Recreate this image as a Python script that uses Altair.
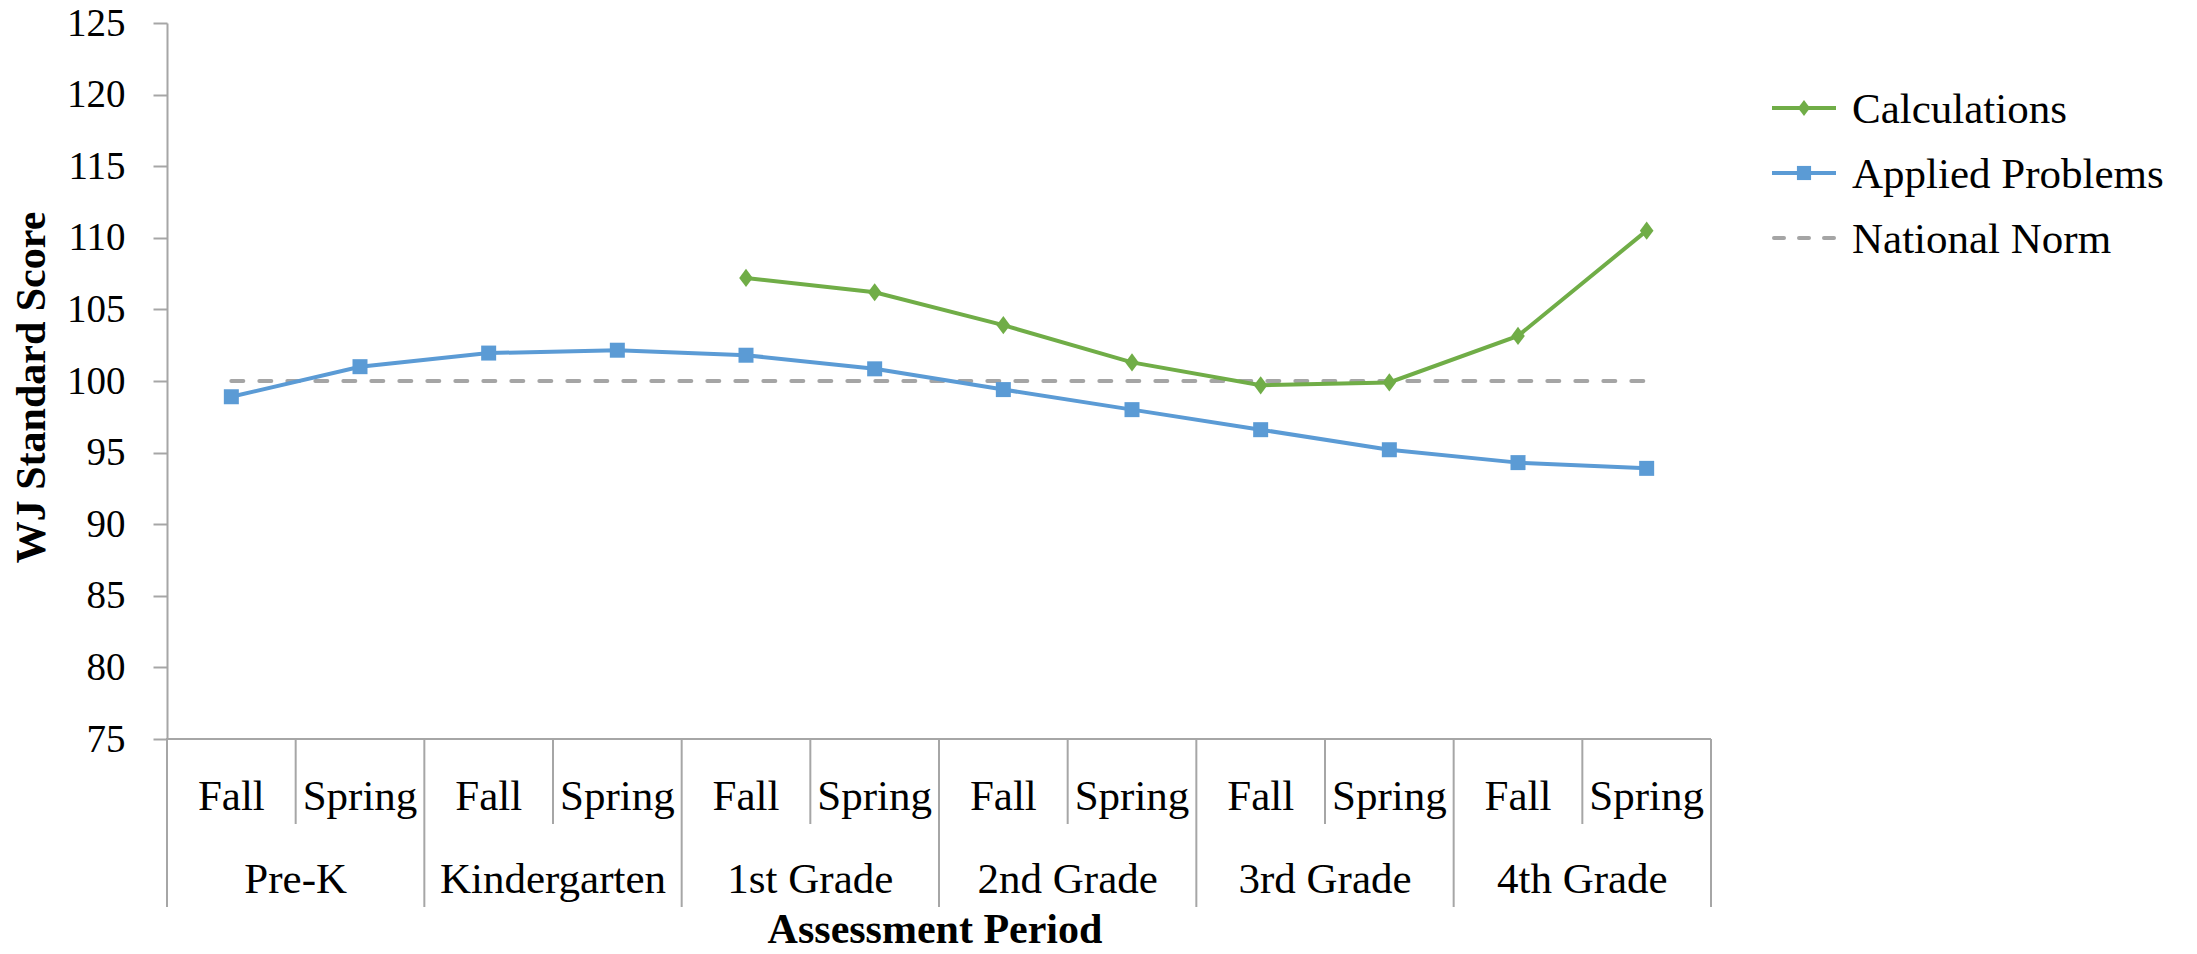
import altair as alt
import pandas as pd

# ---------------- data ----------------
seasons = ["Fall", "Spring"] * 6
grades = ["Pre-K", "Kindergarten", "1st Grade", "2nd Grade", "3rd Grade", "4th Grade"]
calculations = [None, None, None, None, 107.2, 106.2, 103.9, 101.3, 99.7, 99.9, 103.15, 110.5]
applied_problems = [98.9, 101.0, 101.95, 102.15, 101.8, 100.85, 99.4, 98.0, 96.6, 95.2, 94.3, 93.9]
national_norm = [100] * 12
series_names = ["Calculations", "Applied Problems", "National Norm"]
series_colors = ["#70AD47", "#5B9BD5", "#A5A5A5"]
y_ticks = list(range(75, 130, 5))
x_title = ["Assessment Period"]

# ---------------- tables ----------------
periods = pd.DataFrame({
    "pos": [i + 0.5 for i in range(len(seasons))],
    "season": seasons,
    "grade": [grades[i // 2] for i in range(len(seasons))],
})
groups = pd.DataFrame({"pos": [2 * i + 1 for i in range(len(grades))], "grade": grades})
group_bounds = pd.DataFrame({"pos": [2 * i for i in range(len(grades) + 1)]})
inner_bounds = pd.DataFrame({"pos": [2 * i + 1 for i in range(len(grades))]})

rows = []
for name, vals in zip(series_names, [calculations, applied_problems, national_norm]):
    for i, v in enumerate(vals):
        if v is not None:
            rows.append({"pos": i + 0.5, "value": v, "series": name})
long = pd.DataFrame(rows)

FONT = "Liberation Serif"
AX = "#A6A6A6"
W, H = 1544, 716
DIAMOND = "M0,-1L0.75,0L0,1L-0.75,0Z"

x_scale = alt.Scale(domain=[0, 12], nice=False, zero=False)
x_enc = alt.X("pos:Q", scale=x_scale, axis=None)
y_enc = alt.Y(
    "value:Q",
    scale=alt.Scale(domain=[75, 125], nice=False, zero=False),
    axis=alt.Axis(
        values=y_ticks, title="WJ Standard Score", grid=False,
        tickSize=14, tickWidth=2, tickColor=AX, domainColor=AX, domainWidth=2,
        labelFont=FONT, labelFontSize=39, labelColor="black", labelPadding=28,
        titleFont=FONT, titleFontSize=42, titleFontWeight="bold", titleColor="black",
        titleAngle=270, titleBaseline="alphabetic", titleX=-123, titleY=364,
    ),
)
color_scale = alt.Scale(domain=series_names, range=series_colors)
color_enc = alt.Color("series:N", scale=color_scale, legend=None)

base = alt.Chart(long).encode(x=x_enc, y=y_enc, color=color_enc)

norm = base.transform_filter("datum.series === 'National Norm'").mark_line(
    strokeWidth=4, strokeDash=[12, 16], strokeCap="round"
)
lines = base.transform_filter("datum.series !== 'National Norm'").mark_line(strokeWidth=4)
diamonds = base.transform_filter("datum.series === 'Calculations'").mark_point(
    filled=True, opacity=1, shape=DIAMOND, size=330
)
squares = base.transform_filter("datum.series === 'Applied Problems'").mark_point(
    filled=True, opacity=1, shape="square", size=225
)

# bottom axis line (category axis baseline), drawn the same way as the legend rules
x_baseline = alt.Chart(pd.DataFrame({"edge": ["bottom"]})).mark_rule(
    strokeWidth=2, color=AX
).encode(
    x=alt.value(-1), x2=alt.value(W), y=alt.value(H),
    detail="edge:N",
)
inner_sep = alt.Chart(inner_bounds).mark_rule(color=AX, strokeWidth=2).encode(
    x=x_enc, y=alt.value(H), y2=alt.value(H + 85),
)
group_sep = alt.Chart(group_bounds).mark_rule(color=AX, strokeWidth=2).encode(
    x=x_enc, y=alt.value(H), y2=alt.value(H + 168),
)
season_text = alt.Chart(periods).mark_text(
    font=FONT, fontSize=43, baseline="alphabetic", color="black"
).encode(x=x_enc, y=alt.value(H + 71), text="season:N")
grade_text = alt.Chart(groups).mark_text(
    font=FONT, fontSize=43, baseline="alphabetic", color="black"
).encode(x=x_enc, y=alt.value(H + 154), text="grade:N")
title_text = alt.Chart(pd.DataFrame({"t": x_title})).mark_text(
    font=FONT, fontSize=42, fontWeight="bold", baseline="alphabetic", color="black"
).encode(x=alt.value(W / 2 - 4), y=alt.value(H + 204), text="t:N")

# ---------------- manual legend ----------------
LX0, LX1, LY0, LDY = 1605, 1669, 85, 65
legend_layers = []
for i, name in enumerate(series_names):
    ldf = pd.DataFrame({"series": [name]})
    ly = LY0 + LDY * i
    lc = alt.Chart(ldf)
    if name == "National Norm":
        legend_layers.append(lc.mark_rule(strokeWidth=4, strokeDash=[10, 15], strokeCap="round").encode(
            x=alt.value(LX0 + 2), x2=alt.value(LX1), y=alt.value(ly), color=color_enc))
    else:
        legend_layers.append(lc.mark_rule(strokeWidth=4).encode(
            x=alt.value(LX0), x2=alt.value(LX1), y=alt.value(ly), color=color_enc))
        if name == "Calculations":
            pm = lc.mark_point(filled=True, opacity=1, shape=DIAMOND, size=260)
        else:
            pm = lc.mark_point(filled=True, opacity=1, shape="square", size=200)
        legend_layers.append(pm.encode(
            x=alt.value((LX0 + LX1) / 2), y=alt.value(ly), color=color_enc))
    legend_layers.append(lc.mark_text(
        font=FONT, fontSize=43, align="left", baseline="middle", color="black"
    ).encode(x=alt.value(1685), y=alt.value(ly + 2), text="series:N"))

chart = alt.layer(
    inner_sep, group_sep, season_text, grade_text, title_text,
    norm, lines, diamonds, squares, *legend_layers, x_baseline
).properties(
    width=W, height=H, background="white",
    padding={"left": 159, "top": 15, "right": 478, "bottom": 207},
    autosize=alt.AutoSizeParams(type="none"),
).configure_view(stroke=None)

chart.save("out.html", embed_options={"renderer": "svg", "actions": False})
